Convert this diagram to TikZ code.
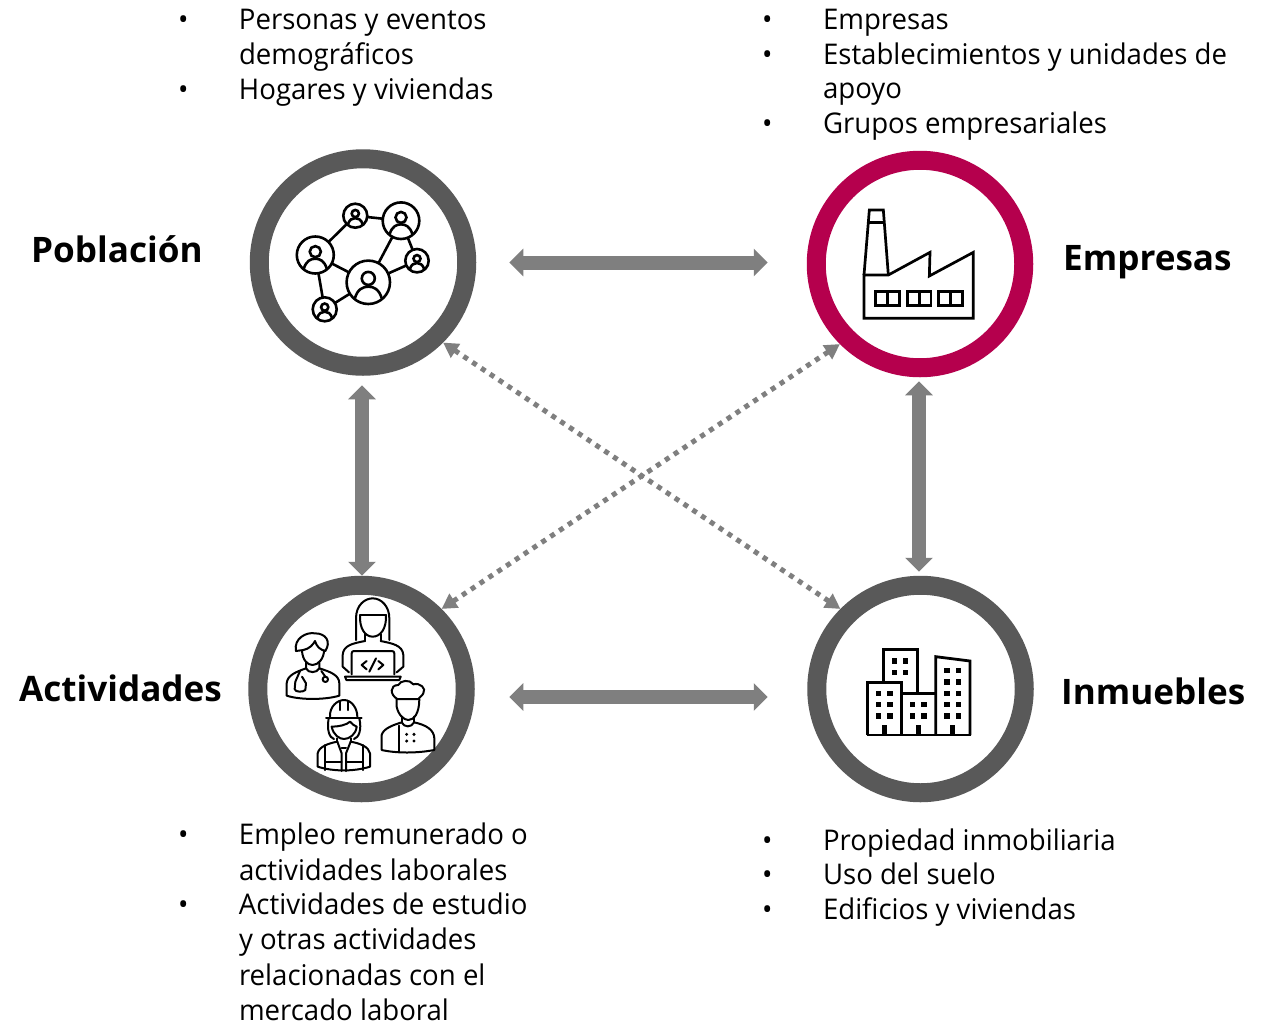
\documentclass[tikz,border=0pt]{standalone}
\usepackage{fontspec}
\setmainfont[FakeStretch=0.968]{Open Sans}
\newfontfamily\headfont{Open Sans}
\usetikzlibrary{arrows.meta}
\definecolor{ringgray}{HTML}{595959}
\definecolor{ringred}{HTML}{B5004D}
\definecolor{arrowgray}{HTML}{7F7F7F}
\tikzset{
  ring/.style={circle,draw=#1,line width=19pt,fill=white,minimum size=207.5pt,inner sep=0pt},
  bigarrow/.style={arrowgray,line width=14pt,{Triangle[length=14pt,width=27pt]}-{Triangle[length=14pt,width=27pt]}},
  dotarrow/.style={arrowgray,line width=5pt,dash pattern=on 5pt off 5.6pt,{Triangle[length=15pt,width=16pt]}-{Triangle[length=15pt,width=16pt]}},
  listitem/.style={anchor=north west,inner sep=0pt,outer sep=0pt,align=left,font=\fontsize{28.5}{35}\selectfont},
  heading/.style={anchor=base west,inner sep=0pt,font=\headfont\fontsize{35.1}{40}\selectfont\bfseries},
  icon/.style={line width=2pt,line cap=round,line join=round,black},
  zoomed/.style={x=0.33333pt,y=-0.33333pt},
}
\newcommand{\bul}{\makebox[61pt][l]{•}}
\newcommand{\ind}{\hspace*{61pt}}
\newcommand{\netp}[3]{%
  \begin{scope}[shift={(#1pt,-#2pt)},x=#3pt,y=-#3pt]
    \draw[fill=white] (0,0) circle (1);
    \draw (0,-0.18) circle (0.3);
    \draw (-0.62,0.74) .. controls (-0.5,0.32) and (-0.25,0.2) .. (0,0.2) .. controls (0.25,0.2) and (0.5,0.32) .. (0.62,0.74);
  \end{scope}}
\begin{document}
\begin{tikzpicture}[x=1pt,y=-1pt]
\useasboundingbox (0,0) rectangle (1271,1023);
\fill[white] (0,0) rectangle (1271,1023);

% rings
\node[ring=ringgray] (pob) at (363,262.5) {};
\node[ring=ringred] (emp) at (920,264) {};
\node[ring=ringgray] (act) at (361.5,689) {};
\node[ring=ringgray] (inm) at (920.5,689) {};

% connectors
\draw[bigarrow,shorten <=33pt,shorten >=39pt] (pob.east) -- (pob.east -| emp.west);
\draw[bigarrow,shorten <=34.5pt,shorten >=39.5pt] ([yshift=-8pt]act.east) -- ([yshift=-8pt]inm.west);
\draw[bigarrow,shorten <=9.5pt] ([xshift=-1pt]pob.south) -- ([xshift=.5pt]act.north);
\draw[bigarrow,shorten <=4pt,shorten >=4pt] ([xshift=-1pt]emp.south) -- ([xshift=-1.5pt]inm.north);
\draw[dotarrow] (pob.-45) -- (inm.135);
\draw[dotarrow] (emp.225) -- (act.45);

% headings
\node[heading] (tpob) at (31,262) {Población};
\node[heading] (temp) at (1063,270) {Empresas};
\node[heading] (tact) at (19,701) {Actividades};
\node[heading] (tinm) at (1061,704) {Inmuebles};

% lists (y = first baseline - 24.5)
\node[listitem] (a1) at (178,4.5) {\strut\bul Personas y eventos\\\ind demográficos};
\node[listitem] (a2) at (178,74.5) {\strut\bul Hogares y viviendas};
\node[listitem] (b1) at (762,4.5) {\strut\bul Empresas};
\node[listitem] (b2) at (762,39.5) {\strut\bul Establecimientos y unidades de\\[-1pt]\ind apoyo};
\node[listitem] (b3) at (762,108.5) {\strut\bul Grupos empresariales};
\node[listitem] (c1) at (178,819.5) {\strut\bul Empleo remunerado o\\[1pt]\ind actividades laborales};
\node[listitem] (c2) at (178,889.5) {\strut\bul Actividades de estudio\\\ind y otras actividades\\[1.5pt]\ind relacionadas con el\\\ind mercado laboral};
\node[listitem] (d1) at (762,825.5) {\strut\bul Propiedad inmobiliaria};
\node[listitem] (d2) at (762,859.5) {\strut\bul Uso del suelo};
\node[listitem] (d3) at (762,894.5) {\strut\bul Edificios y viviendas};

% network icon
\begin{scope}[line width=2.6pt,black]
  \draw (315.3,255) -- (355.3,215.7) -- (401,220.7) -- (368.3,282.3) -- (417,260.7) -- (401,220.7);
  \draw (315.3,255) -- (368.3,282.3) -- (324.7,309.3) -- (315.3,255);
  \netp{368.3}{282.3}{21.7}
  \netp{315.3}{255}{18.5}
  \netp{355.3}{215.7}{12}
  \netp{401}{220.7}{18.3}
  \netp{417}{260.7}{11.7}
  \netp{324.7}{309.3}{12}
\end{scope}

% factory icon
\begin{scope}[shift={(840pt,-190pt)},zoomed,line width=2.7pt,line join=miter]
  \draw (72,255) -- (88,60) -- (130,60) -- (145,255);
  \draw (85,97) -- (133,97);
  \draw (72,255) -- (72,385) -- (400,385) -- (400,187) -- (268,258) -- (270,187) -- (145,255) -- cycle;
  \foreach \wx in {107,202,296}{
    \draw (\wx,305) rectangle (\wx+71,347);
    \draw (\wx+36,305) -- (\wx+36,347);
  }
\end{scope}

% buildings icon
\begin{scope}[shift={(850pt,-630pt)},zoomed,line width=2.8pt,line join=miter]
  \draw (100,157) -- (100,58) -- (202,58) -- (202,190);
  \draw (52,315) -- (52,157) -- (155,157) -- (155,315);
  \draw (155,190) -- (257,190);
  \draw (257,315) -- (257,80) -- (360,93) -- (360,315);
  \draw (50,315) -- (362,315);
  \foreach \wx/\wy in {133/93,167/93,133/127,167/127,
      86/190,120/190,86/224,120/224,86/258,120/258,
      188/224,222/224,188/258,222/258,
      291/122,325/122,291/156,325/156,291/190,325/190,291/224,325/224,291/258,325/258}
    \fill (\wx-8,\wy-8) rectangle (\wx+8,\wy+8);
  \foreach \wx in {96,198,300}
    \fill (\wx,285) rectangle (\wx+16,315);
\end{scope}

% workers icon
\begin{scope}[shift={(250pt,-575pt)},zoomed,icon]
  % doctor
  \draw (138,228) .. controls (130,190) and (170,170) .. (195,175) .. controls (228,175) and (244,200) .. (226,228);
  \draw (138,228) -- (160,225) .. controls (178,222) and (190,208) .. (195,198) .. controls (200,215) and (210,224) .. (226,228);
  \draw (156,228) .. controls (158,255) and (172,270) .. (188,270) .. controls (205,270) and (222,250) .. (222,226);
  \draw (168,262) -- (168,280) .. controls (175,295) and (200,295) .. (208,280) -- (208,262);
  \draw (168,280) .. controls (140,290) and (112,300) .. (110,325) -- (110,362) .. controls (150,375) and (225,375) .. (268,362) -- (268,325) .. controls (268,300) and (240,290) .. (208,280);
  \draw (150,288) -- (136,320) -- (134,342) .. controls (134,352) and (160,352) .. (166,345) -- (168,325) -- (156,305);
  \draw (214,288) -- (226,305);
  \draw (226,313) circle (8);
  % developer
  \draw (318,195) -- (318,130) .. controls (318,90) and (345,70) .. (368,70) .. controls (395,70) and (418,95) .. (418,130) -- (418,195);
  \draw (330,120) -- (408,120);
  \draw (330,120) .. controls (328,160) and (345,185) .. (368,185) .. controls (392,185) and (410,160) .. (408,120);
  \draw (345,178) -- (345,198) (392,178) -- (392,198);
  \draw (345,198) .. controls (310,205) and (280,210) .. (278,240) -- (278,275) -- (297,292);
  \draw (392,198) .. controls (425,205) and (458,210) .. (460,240) -- (460,275) -- (440,292);
  \draw (305,298) -- (305,235) .. controls (305,230) and (308,228) .. (312,228) -- (425,228) .. controls (430,228) and (433,230) .. (433,235) -- (433,298);
  \draw (285,305) -- (452,305) -- (448,315) -- (289,315) -- cycle;
  \draw (350,258) -- (335,270) -- (350,283);
  \draw (358,290) -- (378,250);
  \draw (385,258) -- (400,270) -- (385,283);
  % chef
  \draw (442,372) .. controls (420,360) and (418,330) .. (445,330) .. controls (450,316) and (480,312) .. (490,328) .. controls (510,322) and (530,340) .. (520,355) .. controls (515,365) and (508,366) .. (505,372) -- cycle;
  \draw (440,372) -- (440,395) .. controls (445,420) and (462,435) .. (475,435) .. controls (492,435) and (508,415) .. (508,372);
  \draw (455,425) -- (455,442) (492,425) -- (492,442);
  \draw (395,525) -- (395,480) .. controls (400,460) and (430,450) .. (455,442) .. controls (462,458) and (485,458) .. (492,442) .. controls (530,450) and (552,465) .. (553,490) -- (553,525) .. controls (500,535) and (440,535) .. (395,525);
  \draw (446,452) -- (446,530);
  \foreach \bx/\by in {470/478,492/478,470/498,492/498} \fill (\bx,\by) circle (5);
  % worker
  \draw (240,425) .. controls (238,395) and (262,375) .. (282,375) .. controls (305,375) and (322,400) .. (322,425);
  \draw (228,428) -- (335,428);
  \draw (270,380) -- (270,405) (295,380) -- (295,405);
  \draw (236,430) .. controls (230,465) and (238,488) .. (252,492);
  \draw (328,430) .. controls (336,465) and (326,488) .. (312,492);
  \draw (245,455) .. controls (265,455) and (290,450) .. (300,440) .. controls (305,448) and (315,452) .. (320,455);
  \draw (245,455) .. controls (250,480) and (268,492) .. (282,492) .. controls (298,492) and (318,478) .. (320,455);
  \draw (262,490) -- (262,500) (302,490) -- (302,500);
  \draw (262,500) .. controls (235,505) and (207,515) .. (203,535) -- (203,575) .. controls (250,590) and (312,590) .. (360,575) -- (360,535) .. controls (356,515) and (330,505) .. (302,500);
  \draw (225,510) -- (225,585) (338,510) -- (338,585);
  \draw (225,562) -- (275,562) (288,562) -- (338,562);
  \draw (262,500) -- (275,535) -- (275,588) (302,500) -- (288,535) -- (288,588);
  \draw (275,520) -- (288,520);
\end{scope}
\end{tikzpicture}
\end{document}
